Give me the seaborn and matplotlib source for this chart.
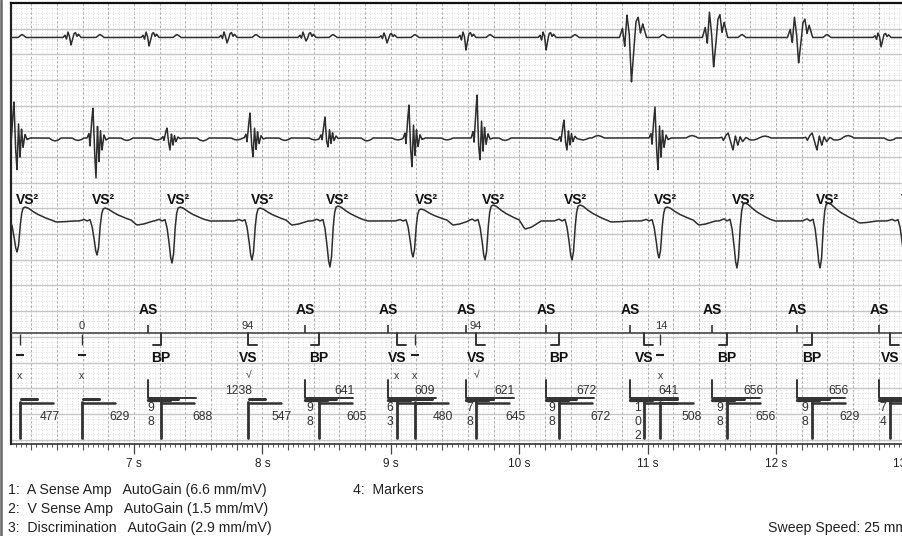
import numpy as np
import pandas as pd
import matplotlib
matplotlib.use("Agg")
import matplotlib.pyplot as plt
from matplotlib.lines import Line2D
import seaborn as sns

sns.set_style("white")
plt.rcParams["font.family"] = ["Liberation Sans", "DejaVu Sans"]

# ---------------- data (times in seconds; amplitudes in screen pixels) ----------------
# Channel 1: A Sense Amp
a_times = [6.517, 7.125, 7.732, 8.347, 8.978, 9.593, 10.217, 10.886, 11.525, 12.187, 12.826]
a_up    = [5.5, 5.5, 5.5, 5.5, 4.5, 5.5, 5.5, 22.5, 25.5, 20.5, 4.5]
a_down  = [7.5, 8.5, 5.5, 3.5, 5.5, 12.5, 12.5, 44.5, 29.5, 25.5, 9.5]
a_wide  = [1, 1, 1, 1, 1, 1, 1, 1.5, 1.4, 1.4, 1]
a_p_times = [6.128, 6.735, 7.335, 7.950, 8.550, 9.188, 9.773, 10.435, 11.120, 11.735, 12.397]
a_p_amp = [3, 3, 3, 3, 3, 3, 3, 3, 3, 3, 3]

# Channel 2: V Sense Amp
v_times = [6.089, 6.704, 7.280, 7.927, 8.511, 9.165, 9.695, 10.372, 11.081, 11.665, 12.319]
v_up    = [36, 30, 10, 25, 21, 33, 43, 18, 31, 5, 5]
v_down  = [32, 40, 12, 19, 9, 29, 22, 12, 32, 12, 12]
v_wide  = [1, 1, 1, 1, 1, 1, 1, 1, 1, 1.6, 1.6]
v_wave_times = [6.385, 6.564, 6.945, 7.179, 7.537, 7.802, 8.176, 8.410, 8.815, 9.056, 9.438,
                9.889, 10.294, 10.497, 10.614, 11.346, 11.821, 11.914, 12.475, 12.561, 12.888]
v_wave_amp = [-3, -2.5, -2.5, -2, -3, -2, -2.5, -2, -3, -2, -2,
              -2.5, -2, -2, 2.5, 2.5, -2, 2, -2, 2.5, -2.5]

# Channel 3: Discrimination
d_times = [6.089, 6.712, 7.296, 7.919, 8.526, 9.173, 9.734, 10.411, 11.089, 11.696, 12.343, 13.005]
d_depth = [31, 34, 42, 39, 46, 36, 39, 39, 37, 47, 47, 40]
d_peak  = [14, 13, 14, 13, 15, 12, 16, 16, 14, 18, 18, 14]
d_under = [1, 4, 0, 4, 0, 4, 8, 1, 4, 0, 2, 0]
vs2_times = [6.167, 6.759, 7.343, 7.997, 8.581, 9.274, 9.796, 10.435, 11.143, 11.743, 12.397, 13.059]

# Channel 4: Markers
as_times = [7.109, 8.332, 8.978, 9.586, 10.209, 10.863, 11.502, 12.164, 12.802]
bp_times = [7.210, 8.441, 10.310, 11.618, 12.280]
vs_times = [7.888, 9.048, 9.664, 10.972, 12.888]
other_v_times = [6.112, 6.595, 9.188, 11.097]
x_mark_times = [6.112, 6.595, 9.048, 9.188, 11.097]
check_times = [7.896, 9.671]
top_num_times = [6.595, 7.888, 9.664, 11.105]
top_num_labels = ["0", "94", "94", "14"]
v_event_times = [6.112, 6.595, 7.210, 7.888, 8.441, 9.048, 9.188, 9.664, 10.310,
                 10.972, 11.097, 11.618, 12.280, 12.888]
aa_label_times = [7.818, 8.636, 9.266, 9.882, 10.528, 11.159, 11.821, 12.483]
aa_labels = ["1238", "641", "609", "621", "672", "641", "656", "656"]
vv_label_times = [6.346, 6.891, 7.537, 8.153, 8.737, 9.407, 9.975, 10.637, 11.346, 11.922, 12.576]
vv_labels = ["477", "629", "688", "547", "605", "480", "645", "672", "508", "656", "629"]
stack_times = [7.132, 8.371, 8.994, 9.617, 10.255, 10.925, 11.564, 12.226, 12.833]
stack_labels = ["98", "98", "63", "78", "98", "102", "98", "98", "74"]

sec_ticks = [7, 8, 9, 10, 11, 12, 13]
sec_labels = ["7 s", "8 s", "9 s", "10 s", "11 s", "12 s", "13 s"]

legend_lines = ["1:  A Sense Amp   AutoGain (6.6 mm/mV)",
                "2:  V Sense Amp   AutoGain (1.5 mm/mV)",
                "3:  Discrimination   AutoGain (2.9 mm/mV)"]
legend_4 = "4:  Markers"
sweep_text = "Sweep Speed: 25 mm/s"

# ---------------- layout ----------------
W, H = 903, 536
PXS = 1 / 128.4             # seconds per screen pixel
MM = 128.4 * 0.04           # pixels per mm
X0_PX, X1_PX = 11, 943
T_LEFT = 7 + (X0_PX - 134) * PXS
T_RIGHT = 7 + (X1_PX - 134) * PXS
Y_TOP, Y_BOT = 3, 444
BASE_A, BASE_V, BASE_D, MLINE = 37.5, 138, 221, 333

fig = plt.figure(figsize=(W / 100, H / 100), dpi=100)
ax = fig.add_axes([X0_PX / W, (H - Y_BOT) / H, (X1_PX - X0_PX) / W, (Y_BOT - Y_TOP) / H])
ax.set_xlim(T_LEFT, T_RIGHT)
ax.set_ylim(Y_BOT, Y_TOP)

# grid
xm = np.arange(np.ceil(T_LEFT / 0.04) * 0.04, T_RIGHT, 0.04)
ax.vlines(xm, Y_TOP, Y_BOT, colors="#d2d2d2", lw=0.6, linestyles=(0, (1, 2.2)), zorder=0)
xM = np.arange(np.ceil(T_LEFT / 0.2) * 0.2, T_RIGHT, 0.2)
ax.vlines(xM, Y_TOP, Y_BOT, colors="#adadad", lw=0.8, linestyles=(0, (2, 2)), zorder=0)
ym = np.arange(Y_TOP, Y_BOT, MM)
ax.hlines(ym, T_LEFT, T_RIGHT, colors="#d2d2d2", lw=0.6, linestyles=(0, (1, 2.2)), zorder=0)
yM = np.arange(Y_TOP + 5 * MM, Y_BOT, 5 * MM)
ax.hlines(yM, T_LEFT, T_RIGHT, colors="#c6c6c6", lw=1.0, zorder=0)

# ---------------- waveforms from templates ----------------
t = np.arange(5.9, 13.4, 0.0004)

def add(sig, centre, dts, vals, width=1.0):
    sig += np.interp(t, centre + np.asarray(dts) * PXS * width, vals, left=0, right=0)

def scaled(tmpl, up, down):
    return [v * up if v > 0 else v * down for v in tmpl]

A_DT = [-9, -7, -5.5, -4, -2.5, -1, 0.5, 2, 3.5, 5, 6.5, 9]
A_V = [0, 0.4, -0.2, 1.0, 0.2, -1.0, -0.3, 0.7, 0.9, 0.2, 0.6, 0]
BUMP_DT = [-4, -1.5, 0, 1.5, 4]
BUMP_V = [0, 0.7, 1, 0.7, 0]
V_DT = [-9, -7, -6, -4.5, -3, -1.5, 0, 1.5, 3, 4.5, 6, 8, 10, 13]
V_V = [0, 0.15, -0.2, 0.5, 1.0, -0.3, -1.0, 0.4, -0.6, 0.25, -0.3, 0.1, -0.05, 0]
WAVE_DT = [-6, -3, 0, 3, 6]
D_DT = [-18, -13, -10, -7, -5, -3, -1.5, 0, 1.5, 3, 4.5, 6, 8, 11, 15, 20, 26, 32, 38]
D_V = [0, 0.12, 0.0, 0.1, -0.15, -0.5, -0.85, -1, -0.8, -0.2, 0.5, 0.92, 1.0, 0.93, 0.72,
       0.5, 0.3, 0.12, 0]
UND_DT = [34, 40, 46, 56]
UND_V = [0, -1, -0.8, 0]

sig_a = np.zeros_like(t)
for c, u, d, w in zip(a_times, a_up, a_down, a_wide):
    add(sig_a, c, A_DT, scaled(A_V, u, d), w)
for c, a in zip(a_p_times, a_p_amp):
    add(sig_a, c, BUMP_DT, [v * a for v in BUMP_V])

sig_v = np.zeros_like(t)
for c, u, d, w in zip(v_times, v_up, v_down, v_wide):
    add(sig_v, c, V_DT, scaled(V_V, u, d), w)
for c, a in zip(v_wave_times, v_wave_amp):
    add(sig_v, c, WAVE_DT, [v * a for v in BUMP_V])

sig_d = np.zeros_like(t)
for c, dep, pk, un in zip(d_times, d_depth, d_peak, d_under):
    add(sig_d, c, D_DT, scaled(D_V, pk, dep))
    add(sig_d, c, UND_DT, [v * un for v in UND_V])

traces = pd.DataFrame({
    "t": np.concatenate([t, t, t]),
    "row": np.concatenate([BASE_A - sig_a, BASE_V - sig_v, BASE_D - sig_d]),
    "ch": ["A"] * len(t) + ["V"] * len(t) + ["D"] * len(t),
})
sns.lineplot(data=traces, x="t", y="row", units="ch", estimator=None, sort=False,
             color="#2e2e2e", lw=1.1, ax=ax, legend=False, zorder=3)

LBL = dict(ha="center", va="center", fontsize=10, fontweight="bold", color="#111", zorder=4)
# VS² labels
for tt in vs2_times:
    ax.text(tt, 200, "VS²", **LBL)

# ---------------- markers channel ----------------
mk = dict(color="#333", zorder=4)
ax.hlines(MLINE, T_LEFT, T_RIGHT, colors="#555", lw=1.3, zorder=3)
ax.vlines(as_times, MLINE - 8, MLINE, colors="#333", lw=1.2, zorder=4)
for tt in as_times:
    ax.text(tt, 310, "AS", **LBL)
for tt in bp_times:
    ax.plot([tt - 8 * PXS, tt, tt], [345, 345, MLINE], lw=1.4, **mk)
    ax.text(tt, 358, "BP", **LBL)
for tt in vs_times:
    ax.plot([tt, tt, tt + 9 * PXS], [MLINE, 345, 345], lw=1.4, **mk)
    ax.text(tt, 358, "VS", **LBL)
ax.vlines(other_v_times, MLINE + 1, 345, colors="#333", lw=1.0, zorder=4)
ax.hlines([355] * len(other_v_times), [tt - 4 * PXS for tt in other_v_times],
          [tt + 4 * PXS for tt in other_v_times], colors="#222", lw=1.5, zorder=4)
for tt in x_mark_times:
    ax.text(tt, 376, "x", ha="center", va="center", fontsize=7.5, color="#333", zorder=4)
for tt in check_times:
    ax.text(tt, 375, "√", ha="center", va="center", fontsize=7.5, color="#333", zorder=4)
for tt, s in zip(top_num_times, top_num_labels):
    ax.text(tt, 326, s, ha="center", va="center", fontsize=8, color="#333", zorder=4)

# A-A interval markers
for tt in as_times:
    ax.plot([tt, tt, tt + 48 * PXS], [380, 398, 398], lw=1.4, **mk)
    ax.plot([tt, tt + 22 * PXS], [399.5, 399.5], lw=2.4, **mk)
for tt, s in zip(aa_label_times, aa_labels):
    ax.text(tt, 391, s, ha="center", va="center", fontsize=8.7, color="#333", zorder=4)

# V-V interval markers
for tt in v_event_times:
    ax.plot([tt, tt], [402, 438], lw=2.0, **mk)
    ax.plot([tt, tt + 33 * PXS], [402.5, 402.5], lw=1.8, **mk)
    ax.plot([tt + 1 * PXS, tt + 17 * PXS], [398.5, 398.5], lw=2.2, **mk)
for tt, s in zip(vv_label_times, vv_labels):
    ax.text(tt, 417, s, ha="center", va="center", fontsize=8.7, color="#333", zorder=4)
for tt, s in zip(stack_times, stack_labels):
    for k, ch in enumerate(s):
        ax.text(tt, 408 + 14 * k, ch, ha="center", va="center", fontsize=8.7,
                color="#333", zorder=4)

# ---------------- axes styling ----------------
ax.set_yticks([])
ax.set_ylabel("")
ax.set_xlabel("")
ax.set_xticks(sec_ticks)
ax.set_xticklabels(sec_labels, fontsize=8.5, color="#222")
ax.set_xticks(np.arange(np.ceil(T_LEFT / 0.04) * 0.04, T_RIGHT, 0.04), minor=True)
ax.tick_params(axis="x", which="major", bottom=True, direction="out", length=7.5, width=0.9,
               color="#444", pad=2.5)
ax.tick_params(axis="x", which="minor", bottom=True, direction="out", length=2.3, width=0.7,
               color="#555")
mid = [v for v in xM if abs(v - round(v)) > 1e-6]
ax.vlines(mid, 0, -6 / (Y_BOT - Y_TOP), colors="#555", lw=0.8,
          transform=ax.get_xaxis_transform(), clip_on=False)
for side in ["left", "top", "bottom", "right"]:
    ax.spines[side].set_visible(True)
ax.spines["left"].set_linewidth(1.6)
ax.spines["left"].set_color("#222")
ax.spines["top"].set_linewidth(1.6)
ax.spines["top"].set_color("#111")
ax.spines["bottom"].set_linewidth(1.1)
ax.spines["bottom"].set_color("#222")

fig.add_artist(Line2D([1.2 / W, 1.2 / W], [0, 1], color="#666", lw=1.8))

# footer text
for k, s in enumerate(legend_lines):
    fig.text(8 / W, 1 - (490 + 19 * k) / H, s, ha="left", va="center", fontsize=10.2,
             color="#222")
fig.text(353 / W, 1 - 490 / H, legend_4, ha="left", va="center", fontsize=10.2, color="#222")
fig.text(768 / W, 1 - 528 / H, sweep_text, ha="left", va="center", fontsize=10.2, color="#222")

fig.savefig("out.png", dpi=100)
